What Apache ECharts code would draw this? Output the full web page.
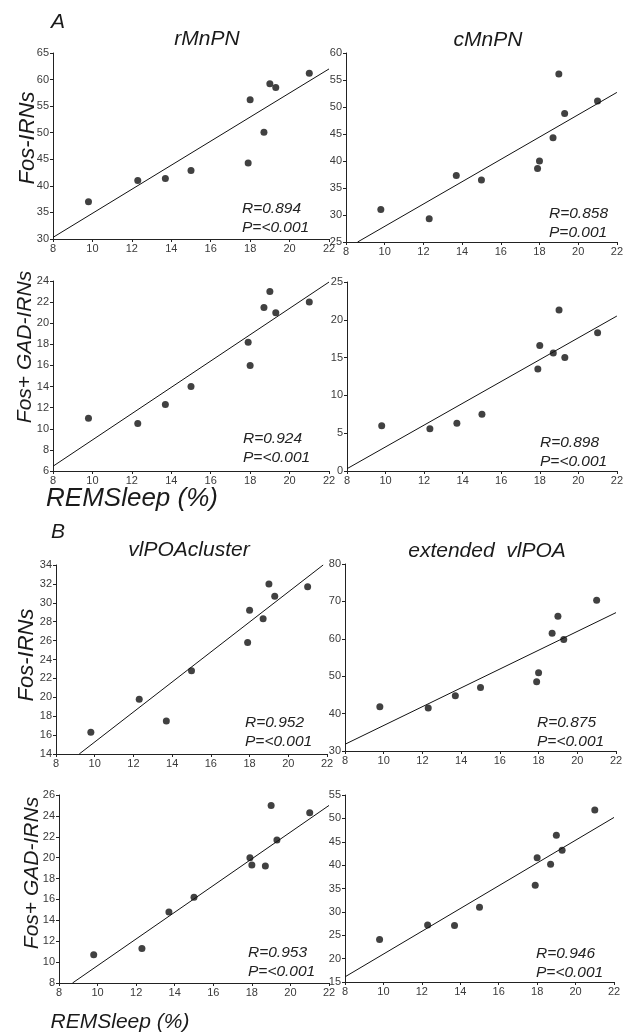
<!DOCTYPE html>
<html>
<head>
<meta charset="utf-8">
<script src="https://cdn.jsdelivr.net/npm/echarts@6/dist/echarts.min.js"></script>
<style>
html,body{margin:0;padding:0;background:#fff;}
#chart{width:626px;height:1034px;}
</style>
</head>
<body>
<div id="chart"></div>
<script>
// REM sleep (%) per animal (same animals in every panel)
var remSleep = [9.8, 12.3, 13.7, 15.0, 17.9, 18.0, 18.7, 19.0, 19.3, 21.0];

// Panel A
var rMnPN_fos    = [37.0, 41.0, 41.4, 42.9, 44.3, 56.2, 50.1, 59.2, 58.5, 61.2];
var cMnPN_fos    = [31.0, 29.3, 37.3, 36.5, 38.6, 40.0, 44.3, 56.1, 48.8, 51.1];
var rMnPN_fosGad = [11.0, 10.5, 12.3, 14.0, 18.2, 16.0, 21.5, 23.0, 21.0, 22.0];
var cMnPN_fosGad = [6.0, 5.6, 6.3, 7.5, 13.5, 16.6, 15.6, 21.3, 15.0, 18.3];
// Panel B
var vlpoaCl_fos     = [16.3, 19.8, 17.5, 22.8, 25.8, 29.2, 28.3, 32.0, 30.7, 31.7];
var vlpoaExt_fos    = [41.8, 41.5, 44.8, 47.0, 48.5, 50.9, 61.5, 66.0, 59.8, 70.3];
var vlpoaCl_fosGad  = [10.7, 11.3, 14.8, 16.2, 20.0, 19.3, 19.2, 25.0, 21.7, 24.3];
var vlpoaExt_fosGad = [24.1, 27.2, 27.1, 31.0, 35.7, 41.6, 40.2, 46.4, 43.2, 51.8];

// Regression line end points [x0,x1], [y0,y1]
var fitX = [[8, 22], [8.6, 22], [8, 22], [8, 22], [9.2, 21.8], [8, 22], [8.7, 22], [8, 22]];
var fitY = [[30.3, 62.0], [25, 52.7], [6.45, 23.9], [0.3, 20.5], [14, 34.0], [31.8, 67.0], [8, 25.0], [16.1, 50.2]];

// Y axis ranges [min, max, interval]
var yRanges = [[30, 65, 5], [25, 60, 5], [6, 24, 2], [0, 25, 5], [14, 34, 2], [30, 80, 10], [8, 26, 2], [15, 55, 5]];
var xRange = [8, 22, 2];

var stats = [
  ['R=0.894', 'P=<0.001'], ['R=0.858', 'P=0.001'],
  ['R=0.924', 'P=<0.001'], ['R=0.898', 'P=<0.001'],
  ['R=0.952', 'P=<0.001'], ['R=0.875', 'P=<0.001'],
  ['R=0.953', 'P=<0.001'], ['R=0.946', 'P=<0.001']
];
var panelTitles = ['rMnPN', 'cMnPN', 'vlPOAcluster', 'extended  vlPOA'];
var yNames = ['Fos-IRNs', 'Fos+ GAD-IRNs'];
var xName = 'REMSleep (%)';

var panelY = [rMnPN_fos, cMnPN_fos, rMnPN_fosGad, cMnPN_fosGad, vlpoaCl_fos, vlpoaExt_fos, vlpoaCl_fosGad, vlpoaExt_fosGad];

// layout
var grids = [
  {left: 53, top: 53, width: 276, height: 186},
  {left: 346, top: 53, width: 271, height: 189},
  {left: 53, top: 281, width: 276, height: 190},
  {left: 347, top: 282, width: 270, height: 189},
  {left: 56, top: 565, width: 271, height: 189},
  {left: 345, top: 564, width: 271, height: 187},
  {left: 59, top: 795, width: 270, height: 188},
  {left: 345, top: 795, width: 269, height: 187}
];
var statPos = [[242, 208], [549, 213], [243, 438], [540, 442], [245, 722], [537, 722], [248, 952], [536, 953]];

var FONT = '"Liberation Sans", Arial, sans-serif';
var axisCol = '#222';
var labCol = '#3a3a3a';

var xAxes = [], yAxes = [], series = [], graphics = [];
for (var i = 0; i < 8; i++) {
  xAxes.push({
    gridIndex: i, type: 'value', min: xRange[0], max: xRange[1], interval: xRange[2],
    axisLine: {show: true, lineStyle: {color: axisCol, width: 1}},
    axisTick: {show: true, length: 3, lineStyle: {color: axisCol}},
    axisLabel: {color: labCol, fontSize: 11, fontFamily: FONT, margin: 4},
    splitLine: {show: false}
  });
  yAxes.push({
    gridIndex: i, type: 'value', min: yRanges[i][0], max: yRanges[i][1], interval: yRanges[i][2],
    axisLine: {show: true, lineStyle: {color: axisCol, width: 1}},
    axisTick: {show: true, length: 3, lineStyle: {color: axisCol}},
    axisLabel: {color: labCol, fontSize: 11, fontFamily: FONT, margin: 4},
    splitLine: {show: false}
  });
  var pts = [];
  for (var k = 0; k < remSleep.length; k++) pts.push([remSleep[k], panelY[i][k]]);
  series.push({
    type: 'scatter', xAxisIndex: i, yAxisIndex: i, data: pts,
    symbol: 'circle', symbolSize: 7, itemStyle: {color: '#111'}, silent: true, z: 3
  });
  series.push({
    type: 'line', xAxisIndex: i, yAxisIndex: i,
    data: [[fitX[i][0], fitY[i][0]], [fitX[i][1], fitY[i][1]]],
    showSymbol: false, symbol: 'none', lineStyle: {color: '#111', width: 1}, silent: true, z: 2, clip: false
  });
  graphics.push({
    type: 'text', left: statPos[i][0], top: statPos[i][1] - 9,
    style: {text: stats[i][0] + '\n' + stats[i][1], font: 'italic 15.5px ' + FONT, fill: '#222', lineHeight: 19}
  });
}

function txt(x, y, s, size, rot) {
  return {
    type: 'text', x: x, y: y, rotation: rot || 0,
    style: {text: s, font: 'italic ' + size + 'px ' + FONT, fill: '#1a1a1a', align: 'center', verticalAlign: 'middle'}
  };
}
graphics.push(txt(58, 22, 'A', 21));
graphics.push(txt(58, 532, 'B', 21));
graphics.push(txt(207, 39, panelTitles[0], 21));
graphics.push(txt(488, 40, panelTitles[1], 21));
graphics.push(txt(189, 550, panelTitles[2], 21));
graphics.push(txt(487, 551, panelTitles[3], 21));
graphics.push(txt(28, 138, yNames[0], 22, Math.PI / 2));
graphics.push(txt(25, 347, yNames[1], 21, Math.PI / 2));
graphics.push(txt(27, 655, yNames[0], 22, Math.PI / 2));
graphics.push(txt(32, 873, yNames[1], 21, Math.PI / 2));
graphics.push(txt(132, 499, xName, 26));
graphics.push(txt(120, 1022, xName, 21));

var chart = echarts.init(document.getElementById('chart'), null, {renderer: 'canvas'});
chart.setOption({
  animation: false,
  backgroundColor: '#fff',
  grid: grids,
  xAxis: xAxes,
  yAxis: yAxes,
  series: series,
  graphic: graphics
});
</script>
</body>
</html>
